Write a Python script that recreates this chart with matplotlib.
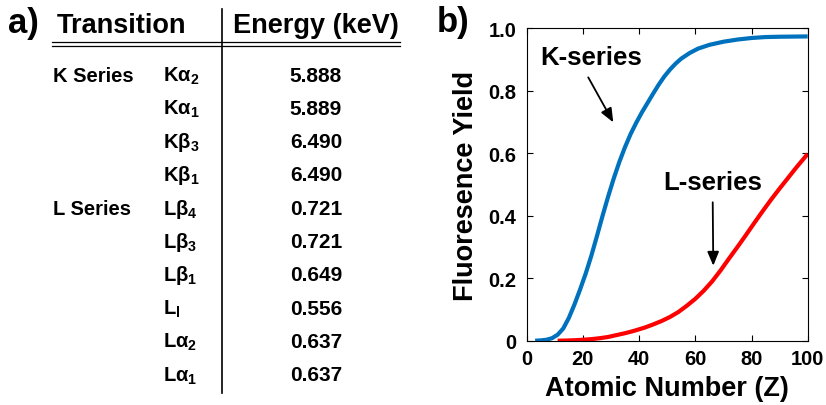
import matplotlib
matplotlib.use("Agg")
import matplotlib.pyplot as plt

plt.rcParams['font.family'] = ['Liberation Sans', 'DejaVu Sans']
plt.rcParams['font.weight'] = 'bold'
plt.rcParams['mathtext.fontset'] = 'custom'
plt.rcParams['mathtext.rm'] = 'Liberation Sans:bold'
plt.rcParams['mathtext.it'] = 'Liberation Sans:bold'
plt.rcParams['mathtext.bf'] = 'Liberation Sans:bold'
plt.rcParams['mathtext.sf'] = 'Liberation Sans:bold'
plt.rcParams['mathtext.default'] = 'rm'

# ---------------- data ----------------
table_headers = ['Transition', 'Energy (keV)']
series_labels = {0: 'K Series', 4: 'L Series'}
transitions = [r'K$\alpha_2$', r'K$\alpha_1$', r'K$\beta_3$', r'K$\beta_1$',
               r'L$\beta_4$', r'L$\beta_3$', r'L$\beta_1$', r'L$_\mathrm{l}$',
               r'L$\alpha_2$', r'L$\alpha_1$']
energies = ['5.888', '5.889', '6.490', '6.490', '0.721', '0.721',
            '0.649', '0.556', '0.637', '0.637']

k_z = [3, 5, 7, 9, 11, 13, 15, 17, 19, 21, 23, 25, 27, 29, 31, 33, 35, 37,
       39, 41, 43, 45, 47, 49, 51, 53, 55, 58, 61, 65, 70, 75, 80, 85, 90, 100]
k_yield = [0.000, 0.001, 0.003, 0.008, 0.019, 0.039, 0.073, 0.116, 0.164,
           0.215, 0.272, 0.335, 0.400, 0.462, 0.520, 0.573, 0.620, 0.662,
           0.698, 0.731, 0.761, 0.791, 0.820, 0.846, 0.868, 0.887, 0.903,
           0.921, 0.935, 0.947, 0.957, 0.964, 0.969, 0.972, 0.973, 0.974]

l_z = [11, 14, 17, 20, 23, 26, 29, 32, 35, 38, 42, 45, 48, 51, 54, 57, 60,
       63, 66, 69, 72, 75, 78, 81, 84, 87, 90, 93, 96, 100]
l_yield = [0.000, 0.0005, 0.0015, 0.003, 0.005, 0.008, 0.012, 0.018, 0.024,
           0.031, 0.042, 0.052, 0.063, 0.076, 0.092, 0.112, 0.134, 0.160,
           0.190, 0.225, 0.263, 0.300, 0.338, 0.377, 0.415, 0.452, 0.487,
           0.521, 0.555, 0.598]

x_ticks = [0, 20, 40, 60, 80, 100]
y_ticks = [0, 0.2, 0.4, 0.6, 0.8, 1.0]
y_tick_labels = ['0', '0.2', '0.4', '0.6', '0.8', '1.0']

# ---------------- figure ----------------
W, H = 826, 406
fig = plt.figure(figsize=(W / 100, H / 100), dpi=100)

# overlay axes in pixel coordinates for the table
tab = fig.add_axes([0, 0, 1, 1])
tab.set_xlim(0, W)
tab.set_ylim(H, 0)
tab.axis('off')

tab.text(8, 33, 'a)', fontsize=25, fontweight='bold', va='baseline', ha='left')
tab.text(57, 33, table_headers[0], fontsize=19.5, fontweight='bold', va='baseline', ha='left')
tab.text(233, 33, table_headers[1], fontsize=19.5, fontweight='bold', va='baseline', ha='left')

tab.plot([52, 400], [42.7, 42.7], color='black', lw=0.9)
tab.plot([52, 400], [46.7, 46.7], color='black', lw=0.9)
tab.plot([221.7, 221.7], [10, 394], color='black', lw=1.2)

row0 = 81.5
dy = 33.33
for i, (tr, en) in enumerate(zip(transitions, energies)):
    yb = row0 + dy * i
    if i in series_labels:
        tab.text(53, yb, series_labels[i], fontsize=14.5, fontweight='bold',
                 va='baseline', ha='left')
    tab.text(163, yb, tr, fontsize=14.5, fontweight='bold', va='baseline', ha='left')
    tab.text(316, yb, en, fontsize=15, fontweight='bold', va='baseline', ha='center')

# ---------------- plot panel ----------------
ax = fig.add_axes([526.7 / W, 1 - 341.7 / H, (807.7 - 526.7) / W, (341.7 - 29.3) / H])
ax.plot(k_z, k_yield, color='#0072BD', lw=3.0, solid_capstyle='butt',
        solid_joinstyle='round')
ax.plot(l_z, l_yield, color='#FF0000', lw=3.0, solid_capstyle='butt',
        solid_joinstyle='round')
ax.set_xlim(0, 100)
ax.set_ylim(0, 1.0)
ax.set_xticks(x_ticks)
ax.set_xticklabels([str(t) for t in x_ticks])
ax.set_yticks(y_ticks)
ax.set_yticklabels(y_tick_labels)
ax.tick_params(direction='in', length=4, width=0.8, top=True, right=True,
               labelsize=14.5)
ax.tick_params(axis='x', pad=6)
ax.tick_params(axis='y', pad=7.5)
for lab in ax.get_xticklabels() + ax.get_yticklabels():
    lab.set_fontweight('bold')
for sp in ax.spines.values():
    sp.set_linewidth(0.8)

ax.set_xlabel('Atomic Number (Z)', fontsize=19.5, fontweight='bold')
ax.set_ylabel('Fluoresence Yield', fontsize=19.5, fontweight='bold')
ax.xaxis.set_label_coords(0.499, -0.11)
ax.yaxis.set_label_coords(-0.17, 0.5)

ax.annotate('', xy=(30.8, 0.699), xytext=(21.9, 0.843),
            arrowprops=dict(arrowstyle='-|>,head_length=0.6,head_width=0.25',
                            color='black', lw=1.3,
                            mutation_scale=14, shrinkA=0, shrinkB=0))
ax.text(22.8, 0.886, 'K-series', fontsize=18.5, fontweight='bold',
        ha='center', va='baseline')
ax.annotate('', xy=(66.4, 0.24), xytext=(66.2, 0.443),
            arrowprops=dict(arrowstyle='-|>,head_length=0.6,head_width=0.25',
                            color='black', lw=1.3,
                            mutation_scale=14, shrinkA=0, shrinkB=0))
ax.text(66.1, 0.485, 'L-series', fontsize=18.5, fontweight='bold',
        ha='center', va='baseline')

fig.text(437 / W, 1 - 32 / H, 'b)', fontsize=25, fontweight='bold',
         va='baseline', ha='left')

fig.savefig('out.png', dpi=100)
